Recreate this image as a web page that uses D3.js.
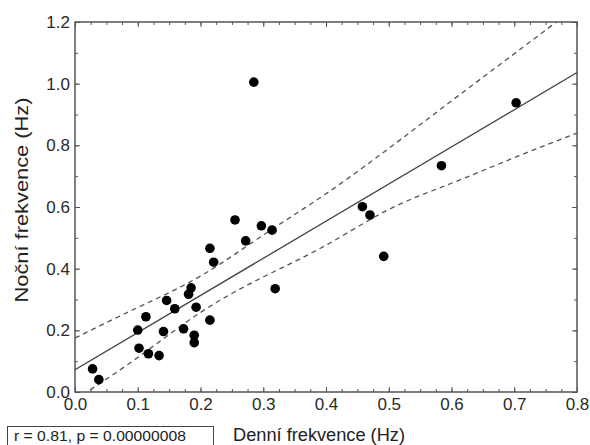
<!DOCTYPE html>
<html>
<head>
<meta charset="utf-8">
<script src="https://cdn.jsdelivr.net/npm/d3@7"></script>
<style>
  body { margin: 0; background: #fff; }
  svg { display: block; font-family: "Liberation Sans", Arial, sans-serif; }
</style>
</head>
<body>
<svg id="chart" width="590" height="445"></svg>
<script>
// denni (x) vs nocni (y) frekvence, Hz
var denni = [0.028, 0.038, 0.100, 0.102, 0.113, 0.117, 0.134, 0.141, 0.146, 0.159,
             0.173, 0.181, 0.185, 0.190, 0.190, 0.193, 0.215, 0.215, 0.221, 0.255,
             0.272, 0.297, 0.314, 0.319, 0.458, 0.470, 0.492, 0.584, 0.703, 0.285];
var nocni = [0.075, 0.040, 0.201, 0.142, 0.244, 0.124, 0.118, 0.196, 0.297, 0.270,
             0.205, 0.317, 0.338, 0.184, 0.160, 0.275, 0.466, 0.233, 0.421, 0.558,
             0.490, 0.539, 0.525, 0.335, 0.601, 0.574, 0.440, 0.734, 0.938, 1.005];

// regression line end points and 95% band
var fitX = [0, 0.8];
var fitY = [0.072, 1.036];
var bandX = [0.0, 0.1, 0.2, 0.3, 0.4, 0.5, 0.6, 0.7, 0.8];
var upperY = [0.175, 0.274, 0.376, 0.509, 0.643, 0.790, 0.944, 1.097, 1.25];
var lowerY = [-0.025, 0.112, 0.258, 0.373, 0.476, 0.592, 0.677, 0.760, 0.840];

var xTicks = [0, 0.1, 0.2, 0.3, 0.4, 0.5, 0.6, 0.7, 0.8];
var yTicks = [0, 0.2, 0.4, 0.6, 0.8, 1.0, 1.2];

var svg = d3.select("#chart");
var pLeft = 75, pRight = 577, pTop = 22, pBottom = 392;

var x = d3.scaleLinear().domain([0, 0.8]).range([pLeft, pRight]);
var y = d3.scaleLinear().domain([0, 1.2]).range([pBottom, pTop]);

svg.append("clipPath").attr("id", "clip")
  .append("rect")
    .attr("x", pLeft).attr("y", pTop)
    .attr("width", pRight - pLeft).attr("height", pBottom - pTop);

var xMinor = d3.range(0, 0.8001, 0.025);
var yMinor = d3.range(0, 1.2001, 0.1);
var fmt = d3.format(".1f");

// minor ticks, all four sides, pointing in
svg.append("g").attr("transform", "translate(0," + pBottom + ")")
  .call(d3.axisBottom(x).tickValues(xMinor).tickSize(-3).tickFormat(""));
svg.append("g").attr("transform", "translate(0," + pTop + ")")
  .call(d3.axisTop(x).tickValues(xMinor).tickSize(-3).tickFormat(""));
svg.append("g").attr("transform", "translate(" + pLeft + ",0)")
  .call(d3.axisLeft(y).tickValues(yMinor).tickSize(-3).tickFormat(""));
svg.append("g").attr("transform", "translate(" + pRight + ",0)")
  .call(d3.axisRight(y).tickValues(yMinor).tickSize(-3).tickFormat(""));

// major ticks with labels
svg.append("g").attr("class", "xaxis").attr("transform", "translate(0," + pBottom + ")")
  .call(d3.axisBottom(x).tickValues(xTicks).tickSize(-5).tickPadding(6).tickFormat(fmt));
svg.append("g").attr("transform", "translate(0," + pTop + ")")
  .call(d3.axisTop(x).tickValues(xTicks).tickSize(-5).tickFormat(""));
svg.append("g").attr("class", "yaxis").attr("transform", "translate(" + pLeft + ",0)")
  .call(d3.axisLeft(y).tickValues(yTicks).tickSize(-5).tickPadding(5).tickFormat(fmt));
svg.append("g").attr("transform", "translate(" + pRight + ",0)")
  .call(d3.axisRight(y).tickValues(yTicks).tickSize(-5).tickFormat(""));

svg.selectAll(".domain").remove();
svg.selectAll(".tick line").attr("stroke", "#555");
svg.selectAll(".xaxis text, .yaxis text")
  .attr("font-size", "17px").attr("fill", "#2a2a2a");

// frame
svg.append("rect")
  .attr("x", pLeft).attr("y", pTop)
  .attr("width", pRight - pLeft).attr("height", pBottom - pTop)
  .attr("fill", "none").attr("stroke", "#555").attr("stroke-width", 1.5);

var plot = svg.append("g").attr("clip-path", "url(#clip)");

// confidence band
var band = d3.line().curve(d3.curveNatural)
  .x(function(d) { return x(d[0]); })
  .y(function(d) { return y(d[1]); });

plot.append("path")
  .attr("d", band(d3.zip(bandX, upperY)))
  .attr("fill", "none").attr("stroke", "#555").attr("stroke-width", 1.3)
  .attr("stroke-dasharray", "5,4");
plot.append("path")
  .attr("d", band(d3.zip(bandX, lowerY)))
  .attr("fill", "none").attr("stroke", "#555").attr("stroke-width", 1.3)
  .attr("stroke-dasharray", "5,4");

// fit line
plot.append("path")
  .attr("d", d3.line().x(function(d) { return x(d[0]); }).y(function(d) { return y(d[1]); })(d3.zip(fitX, fitY)))
  .attr("fill", "none").attr("stroke", "#444").attr("stroke-width", 1.3);

// points
svg.append("g").selectAll("circle")
  .data(d3.zip(denni, nocni))
  .enter()
  .append("circle")
    .attr("cx", function(d) { return x(d[0]); })
    .attr("cy", function(d) { return y(d[1]); })
    .attr("r", 4.8)
    .attr("fill", "#000");

// axis titles
svg.append("text")
  .attr("x", 233)
  .attr("y", 441)
  .attr("font-size", "18px")
  .attr("textLength", 172)
  .attr("lengthAdjust", "spacingAndGlyphs")
  .attr("fill", "#222")
  .text("Denní frekvence (Hz)");

svg.append("text")
  .attr("transform", "translate(28,200) rotate(-90)")
  .attr("text-anchor", "middle")
  .attr("font-size", "19px")
  .attr("textLength", 205)
  .attr("lengthAdjust", "spacingAndGlyphs")
  .attr("fill", "#222")
  .text("Noční frekvence (Hz)");

// stats box
svg.append("rect")
  .attr("x", 7.5).attr("y", 426.5)
  .attr("width", 206).attr("height", 24)
  .attr("fill", "#fff").attr("stroke", "#444");
svg.append("text")
  .attr("x", 14)
  .attr("y", 441)
  .attr("font-size", "14px")
  .attr("textLength", 172)
  .attr("lengthAdjust", "spacingAndGlyphs")
  .attr("fill", "#222")
  .text("r = 0.81, p = 0.00000008");
</script>
</body>
</html>
